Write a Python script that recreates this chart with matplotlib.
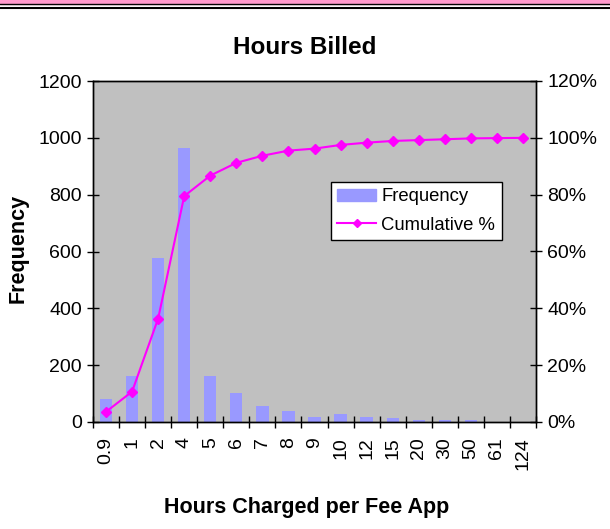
import matplotlib
matplotlib.use('Agg')
from matplotlib import pyplot as plt
from matplotlib.lines import Line2D
from matplotlib.patches import Rectangle
import numpy as np

plt.rcParams['font.family'] = ['Liberation Sans', 'DejaVu Sans']

hours = ['0.9', '1', '2', '4', '5', '6', '7', '8', '9', '10', '12', '15',
         '20', '30', '50', '61', '124']
frequency = [80, 161, 578, 965, 163, 102, 57, 40, 17, 29, 17, 15, 8, 7, 7, 1, 1]
cumulative = [3.6, 10.7, 36.4, 79.5, 86.7, 91.2, 93.7, 95.5, 96.2, 97.5, 98.3,
              98.9, 99.2, 99.5, 99.8, 99.9, 100.0]

fig = plt.figure(figsize=(6.1, 5.29), dpi=100)
ax = fig.add_axes([93/610, 1 - 422/529, 443/610, 341/529])
ax.set_facecolor('#C0C0C0')

x = np.arange(len(hours))
ax.bar(x, frequency, width=0.47, color='#9999FF', label='Frequency', zorder=2)
ax.set_xlim(-0.5, len(hours) - 0.5)
ax.set_ylim(0, 1200)
ax.set_yticks(range(0, 1201, 200))
ax.set_xticks(x)
ax.set_xticklabels(hours, rotation=90, fontsize=14)
ax.set_xticks(np.arange(-0.5, len(hours)), minor=True)
ax.tick_params(axis='x', which='major', length=0, pad=11)
ax.tick_params(axis='x', which='minor', length=8, direction='inout', width=1)
ax.tick_params(axis='y', labelsize=14, length=8, direction='inout', width=1, pad=4)

ax2 = ax.twinx()
ax2.plot(x, cumulative, color='#FF00FF', marker='D', markersize=5, lw=1.5,
         label='Cumulative %', zorder=3)
ax2.set_ylim(0, 120)
ax2.set_yticks(range(0, 121, 20))
ax2.set_yticklabels([f'{v}%' for v in range(0, 121, 20)])
ax2.tick_params(axis='y', labelsize=14, length=8, direction='inout', width=1, pad=4)

for a in (ax, ax2):
    for s in a.spines.values():
        s.set_color('black')
        s.set_linewidth(1)

fig.text(305/610, 1 - 48/529, 'Hours Billed', fontsize=17.5,
         fontweight='bold', ha='center', va='center')
fig.text(18/610, 1 - 248/529, 'Frequency', fontsize=15.5, fontweight='bold',
         ha='center', va='center', rotation=90)
fig.text(307/610, 1 - 507/529, 'Hours Charged per Fee App', fontsize=15.5,
         fontweight='bold', ha='center', va='center')

handles = [Rectangle((0, 0), 1, 1, color='#9999FF'),
           Line2D([], [], color='#FF00FF', marker='D', markersize=4, lw=1.5)]
leg = ax2.legend(handles, ['Frequency', 'Cumulative %'], loc='upper left',
                 bbox_to_anchor=((331 - 93) / 443, (422 - 182) / 341),
                 fontsize=13.3, frameon=True,
                 fancybox=False, framealpha=1, edgecolor='black',
                 borderpad=0.35, handlelength=2.1, handleheight=0.7,
                 handletextpad=0.27, labelspacing=0.6, borderaxespad=0)
leg.get_frame().set_linewidth(1)

# cut-off header strip at the top
fig.patches.append(Rectangle((0, 1 - 4/529), 1, 4/529, transform=fig.transFigure,
                             color='#FF99CC', zorder=0))
fig.lines.append(Line2D([0, 1], [1 - 4/529, 1 - 4/529], transform=fig.transFigure,
                        color='black', lw=1))
fig.lines.append(Line2D([0, 1], [1 - 7.5/529, 1 - 7.5/529], transform=fig.transFigure,
                        color='black', lw=1.5))

plt.savefig('out.png', dpi=100)
